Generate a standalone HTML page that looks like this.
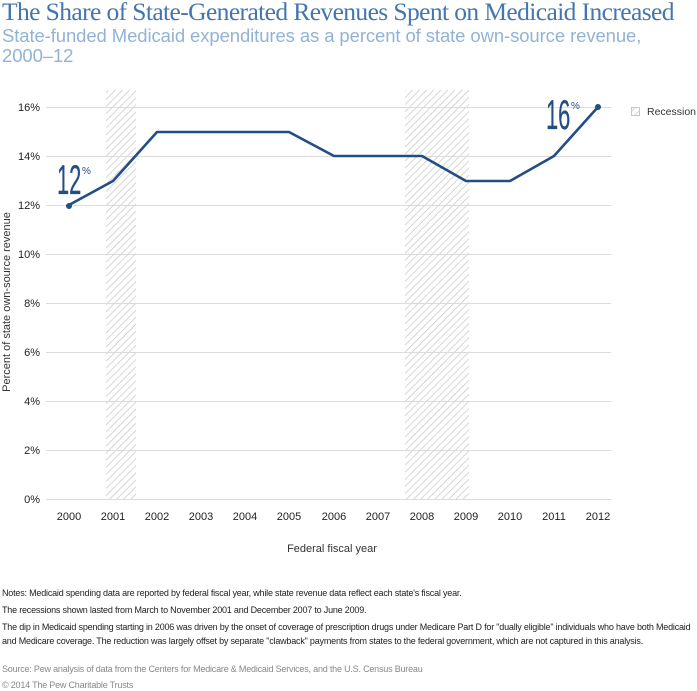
<!DOCTYPE html>
<html><head><meta charset="utf-8"><style>
body{margin:0;background:#fff;width:697px;height:690px;overflow:hidden;font-family:"Liberation Sans",sans-serif;}
.t{position:absolute;white-space:nowrap;}
</style></head><body>
<div class="t" style="left:2px;top:-3px;font-family:'Liberation Serif',serif;font-size:25.5px;color:#4476ad;letter-spacing:-0.6px;">The Share of State-Generated Revenues Spent on Medicaid Increased</div>
<div class="t" style="left:2px;top:26px;font-size:18.5px;color:#92b3d6;line-height:20px;letter-spacing:-0.1px;">State-funded Medicaid expenditures as a percent of state own-source revenue,<br>2000–12</div>
<svg width="697" height="690" style="position:absolute;left:0;top:0">
<defs><pattern id="h" width="5" height="5" patternUnits="userSpaceOnUse" patternTransform="rotate(45)"><rect width="5" height="5" fill="#fff"/><line x1="0" y1="0" x2="0" y2="5" stroke="#c9c9c9" stroke-width="1.5"/></pattern></defs>
<rect x="106" y="90" width="30" height="409" fill="url(#h)"/>
<rect x="405" y="90" width="64" height="409" fill="url(#h)"/>
<g stroke="#dcdcdc" stroke-width="1">
<line x1="46" x2="611" y1="107.5" y2="107.5"/><line x1="46" x2="611" y1="156.5" y2="156.5"/><line x1="46" x2="611" y1="205.5" y2="205.5"/><line x1="46" x2="611" y1="254.5" y2="254.5"/><line x1="46" x2="611" y1="303.5" y2="303.5"/><line x1="46" x2="611" y1="352.5" y2="352.5"/><line x1="46" x2="611" y1="401.5" y2="401.5"/><line x1="46" x2="611" y1="450.5" y2="450.5"/><line x1="46" x2="611" y1="499.5" y2="499.5"/>
</g>
<g font-size="11" fill="#222" text-anchor="end">
<text x="40" y="111">16%</text><text x="40" y="160">14%</text><text x="40" y="209">12%</text><text x="40" y="258">10%</text><text x="40" y="307">8%</text><text x="40" y="356">6%</text><text x="40" y="405">4%</text><text x="40" y="454">2%</text><text x="40" y="503">0%</text>
</g>
<g font-size="11" fill="#222" text-anchor="middle">
<text x="69" y="520">2000</text><text x="113" y="520">2001</text><text x="157" y="520">2002</text><text x="201" y="520">2003</text><text x="245" y="520">2004</text><text x="289" y="520">2005</text><text x="334" y="520">2006</text><text x="378" y="520">2007</text><text x="422" y="520">2008</text><text x="466" y="520">2009</text><text x="510" y="520">2010</text><text x="554" y="520">2011</text><text x="598" y="520">2012</text>
</g>
<text x="332" y="552" font-size="11" fill="#333" text-anchor="middle">Federal fiscal year</text>
<text transform="translate(10,302) rotate(-90)" font-size="11" fill="#333" text-anchor="middle">Percent of state own-source revenue</text>
<polyline fill="none" stroke="#234d85" stroke-width="2.6" stroke-linejoin="round" points="69,205 113,181 157,132 201,132 245,132 289,132 334,156 378,156 422,156 466,181 510,181 554,156 598,107"/>
<circle cx="69" cy="206" r="3" fill="#234d85"/><circle cx="598" cy="107" r="3" fill="#234d85"/>
<text x="0" y="0" font-size="42" fill="#234d85" transform="translate(57,194) scale(0.52,1)" stroke="#234d85" stroke-width="0.3">12</text>
<text x="82" y="174" font-size="10" fill="#234d85">%</text>
<text x="0" y="0" font-size="42" fill="#234d85" transform="translate(546,129) scale(0.52,1)" stroke="#234d85" stroke-width="0.3">16</text>
<text x="571" y="109" font-size="10" fill="#234d85">%</text>
<rect x="631.5" y="107.5" width="8" height="8" fill="url(#h)" stroke="#c9c9c9"/>
<text x="647" y="115" font-size="10.5" fill="#333">Recession</text>
</svg>
<div class="t" style="left:2px;top:587px;font-size:9px;line-height:12px;color:#222;white-space:normal;width:695px;letter-spacing:-0.2px;">
<div style="margin-bottom:5px">Notes: Medicaid spending data are reported by federal fiscal year, while state revenue data reflect each state's fiscal year.</div>
<div style="margin-bottom:5px">The recessions shown lasted from March to November 2001 and December 2007 to June 2009.</div>
<div style="margin-bottom:15px;line-height:13.5px">The dip in Medicaid spending starting in 2006 was driven by the onset of coverage of prescription drugs under Medicare Part D for "dually eligible" individuals who have both Medicaid and Medicare coverage. The reduction was largely offset by separate "clawback" payments from states to the federal government, which are not captured in this analysis.</div>
<div style="color:#888;margin-bottom:4px">Source: Pew analysis of data from the Centers for Medicare &amp; Medicaid Services, and the U.S. Census Bureau</div>
<div style="color:#888">© 2014 The Pew Charitable Trusts</div>
</div>
</body></html>
